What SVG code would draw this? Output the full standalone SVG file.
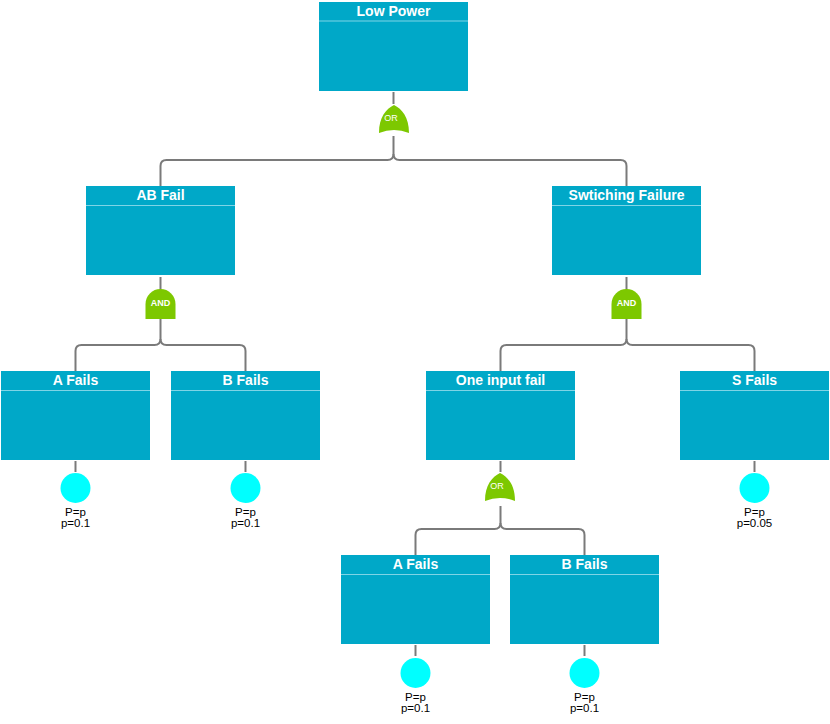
<svg xmlns="http://www.w3.org/2000/svg" width="830" height="724" viewBox="0 0 830 724">
  <style>
    .box { fill: #00a8c8; }
    .hdr { stroke: #7fd4e6; stroke-width: 1; }
    .title { font-family: "Liberation Sans", Arial, sans-serif; font-size: 14px; font-weight: bold; fill: #ffffff; text-anchor: middle; }
    .wire { fill: none; stroke: #7a7a7a; stroke-width: 2; }
    .gate { fill: #7dc800; }
    .gtxt { font-family: "Liberation Sans", Arial, sans-serif; font-size: 9px; font-weight: bold; fill: #ffffff; text-anchor: middle; }
    .gtxt.or { font-weight: normal; }
    .basic { fill: #00ffff; }
    .prob { font-family: "Liberation Sans", Arial, sans-serif; font-size: 11.5px; fill: #000000; text-anchor: middle; }
  </style>
  <defs>
    <!-- gate shapes, origin at the top centre -->
    <path id="orShape" d="M0,0 C-8,4 -15,12 -15,28 Q0,22 15,28 C15,12 8,4 0,0 Z"/>
    <path id="andShape" d="M-15,30 V15 A15,15 0 0 1 15,15 V30 Z"/>
  </defs>

  <!-- connectors -->
  <g id="connectors" class="wire">
    <!-- Low Power -> OR -> AB Fail / Swtiching Failure -->
    <path d="M393.5,92 V104"/>
    <path d="M393.5,136 V154 Q393.5,160 387.5,160 H166.5 Q160.5,160 160.5,166 V186"/>
    <path d="M393.5,154 Q393.5,160 399.5,160 H620.5 Q626.5,160 626.5,166 V186"/>
    <!-- AB Fail -> AND -> A Fails / B Fails -->
    <path d="M160.5,277 V290"/>
    <path d="M160.5,319 V339 Q160.5,345 154.5,345 H81.5 Q75.5,345 75.5,351 V371"/>
    <path d="M160.5,339 Q160.5,345 166.5,345 H239.5 Q245.5,345 245.5,351 V371"/>
    <!-- Swtiching Failure -> AND -> One input fail / S Fails -->
    <path d="M626.5,277 V290"/>
    <path d="M626.5,319 V339 Q626.5,345 620.5,345 H506.5 Q500.5,345 500.5,351 V371"/>
    <path d="M626.5,339 Q626.5,345 632.5,345 H748.5 Q754.5,345 754.5,351 V371"/>
    <!-- One input fail -> OR -> A Fails / B Fails -->
    <path d="M500.5,461 V472"/>
    <path d="M500.5,506 V523 Q500.5,529 494.5,529 H421.5 Q415.5,529 415.5,535 V555"/>
    <path d="M500.5,523 Q500.5,529 506.5,529 H578.5 Q584.5,529 584.5,535 V555"/>
    <!-- basic event stubs -->
    <path d="M75.5,461 V472"/>
    <path d="M245.5,461 V472"/>
    <path d="M754.5,461 V472"/>
    <path d="M415.5,645 V656"/>
    <path d="M584.5,645 V656"/>
  </g>

  <!-- events -->
  <g id="low-power">
    <rect class="box" x="319" y="2" width="149" height="89"/>
    <line class="hdr" x1="319" y1="21" x2="468" y2="21"/>
    <text class="title" x="393.5" y="16">Low Power</text>
  </g>
  <g id="ab-fail">
    <rect class="box" x="86" y="186" width="149" height="89"/>
    <line class="hdr" x1="86" y1="205.5" x2="235" y2="205.5"/>
    <text class="title" x="160.5" y="200">AB Fail</text>
  </g>
  <g id="switching-failure">
    <rect class="box" x="552" y="186" width="149" height="89"/>
    <line class="hdr" x1="552" y1="205.5" x2="701" y2="205.5"/>
    <text class="title" x="626.5" y="200">Swtiching Failure</text>
  </g>
  <g id="a-fails-1">
    <rect class="box" x="1" y="371" width="149" height="89"/>
    <line class="hdr" x1="1" y1="390.5" x2="150" y2="390.5"/>
    <text class="title" x="75.5" y="385">A Fails</text>
  </g>
  <g id="b-fails-1">
    <rect class="box" x="171" y="371" width="149" height="89"/>
    <line class="hdr" x1="171" y1="390.5" x2="320" y2="390.5"/>
    <text class="title" x="245.5" y="385">B Fails</text>
  </g>
  <g id="one-input-fail">
    <rect class="box" x="426" y="371" width="149" height="89"/>
    <line class="hdr" x1="426" y1="390.5" x2="575" y2="390.5"/>
    <text class="title" x="500.5" y="385">One input fail</text>
  </g>
  <g id="s-fails">
    <rect class="box" x="680" y="371" width="149" height="89"/>
    <line class="hdr" x1="680" y1="390.5" x2="829" y2="390.5"/>
    <text class="title" x="754.5" y="385">S Fails</text>
  </g>
  <g id="a-fails-2">
    <rect class="box" x="341" y="555" width="149" height="89"/>
    <line class="hdr" x1="341" y1="574.5" x2="490" y2="574.5"/>
    <text class="title" x="415.5" y="569">A Fails</text>
  </g>
  <g id="b-fails-2">
    <rect class="box" x="510" y="555" width="149" height="89"/>
    <line class="hdr" x1="510" y1="574.5" x2="659" y2="574.5"/>
    <text class="title" x="584.5" y="569">B Fails</text>
  </g>

  <!-- gates -->
  <g id="gate-or-top">
    <use href="#orShape" class="gate" transform="translate(394,105)"/>
    <text class="gtxt or" x="391" y="121">OR</text>
  </g>
  <g id="gate-and-ab">
    <use href="#andShape" class="gate" transform="translate(160.5,289)"/>
    <text class="gtxt" x="160.5" y="306">AND</text>
  </g>
  <g id="gate-and-sw">
    <use href="#andShape" class="gate" transform="translate(626.5,289)"/>
    <text class="gtxt" x="626.5" y="306">AND</text>
  </g>
  <g id="gate-or-input">
    <use href="#orShape" class="gate" transform="translate(500,473)"/>
    <text class="gtxt or" x="497" y="489">OR</text>
  </g>

  <!-- basic events -->
  <g id="basic-a-1">
    <circle class="basic" cx="75.5" cy="488" r="15"/>
    <text class="prob" x="75.5" y="516">P=p</text>
    <text class="prob" x="75.5" y="527">p=0.1</text>
  </g>
  <g id="basic-b-1">
    <circle class="basic" cx="245.5" cy="488" r="15"/>
    <text class="prob" x="245.5" y="516">P=p</text>
    <text class="prob" x="245.5" y="527">p=0.1</text>
  </g>
  <g id="basic-s">
    <circle class="basic" cx="754.5" cy="488" r="15"/>
    <text class="prob" x="754.5" y="516">P=p</text>
    <text class="prob" x="754.5" y="527">p=0.05</text>
  </g>
  <g id="basic-a-2">
    <circle class="basic" cx="415.5" cy="673" r="15"/>
    <text class="prob" x="415.5" y="701">P=p</text>
    <text class="prob" x="415.5" y="712">p=0.1</text>
  </g>
  <g id="basic-b-2">
    <circle class="basic" cx="584.5" cy="673" r="15"/>
    <text class="prob" x="584.5" y="701">P=p</text>
    <text class="prob" x="584.5" y="712">p=0.1</text>
  </g>
</svg>
